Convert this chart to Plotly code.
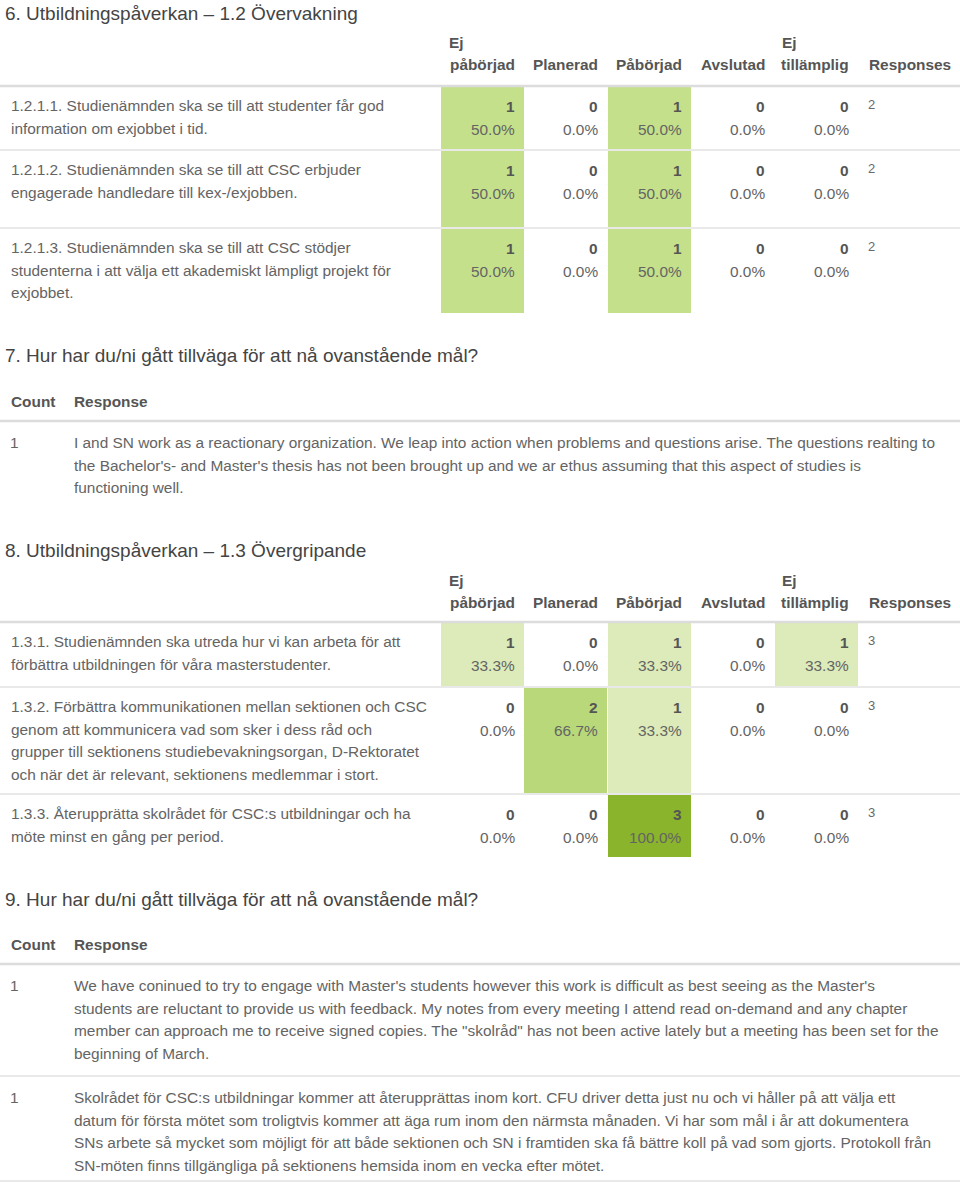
import plotly.graph_objects as go
from plotly.colors import sample_colorscale

# ---------------- data ----------------
col_headers = [["Ej", "påbörjad"], ["Planerad"], ["Påbörjad"], ["Avslutad"], ["Ej", "tillämplig"]]
resp_header = "Responses"

q6_title = "6. Utbildningspåverkan – 1.2 Övervakning"
q6_items = [
    ["1.2.1.1. Studienämnden ska se till att studenter får god", "information om exjobbet i tid."],
    ["1.2.1.2. Studienämnden ska se till att CSC erbjuder", "engagerade handledare till kex-/exjobben."],
    ["1.2.1.3. Studienämnden ska se till att CSC stödjer",
     "studenterna i att välja ett akademiskt lämpligt projekt för", "exjobbet."],
]
q6_counts = [[1, 0, 1, 0, 0], [1, 0, 1, 0, 0], [1, 0, 1, 0, 0]]
q6_responses = [2, 2, 2]

q7_title = "7. Hur har du/ni gått tillväga för att nå ovanstående mål?"
q7_counts = [1]
q7_texts = [[
    "I and SN work as a reactionary organization. We leap into action when problems and questions arise. The questions realting to",
    "the Bachelor's- and Master's thesis has not been brought up and we ar ethus assuming that this aspect of studies is",
    "functioning well.",
]]

q8_title = "8. Utbildningspåverkan – 1.3 Övergripande"
q8_items = [
    ["1.3.1. Studienämnden ska utreda hur vi kan arbeta för att", "förbättra utbildningen för våra masterstudenter."],
    ["1.3.2. Förbättra kommunikationen mellan sektionen och CSC",
     "genom att kommunicera vad som sker i dess råd och",
     "grupper till sektionens studiebevakningsorgan, D-Rektoratet",
     "och när det är relevant, sektionens medlemmar i stort."],
    ["1.3.3. Återupprätta skolrådet för CSC:s utbildningar och ha", "möte minst en gång per period."],
]
q8_counts = [[1, 0, 1, 0, 1], [0, 2, 1, 0, 0], [0, 0, 3, 0, 0]]
q8_responses = [3, 3, 3]

q9_title = "9. Hur har du/ni gått tillväga för att nå ovanstående mål?"
q9_counts = [1, 1]
q9_texts = [
    ["We have coninued to try to engage with Master's students however this work is difficult as best seeing as the Master's",
     "students are reluctant to provide us with feedback. My notes from every meeting I attend read on-demand and any chapter",
     "member can approach me to receive signed copies. The \"skolråd\" has not been active lately but a meeting has been set for the",
     "beginning of March."],
    ["Skolrådet för CSC:s utbildningar kommer att återupprättas inom kort. CFU driver detta just nu och vi håller på att välja ett",
     "datum för första mötet som troligtvis kommer att äga rum inom den närmsta månaden. Vi har som mål i år att dokumentera",
     "SNs arbete så mycket som möjligt för att både sektionen och SN i framtiden ska få bättre koll på vad som gjorts. Protokoll från",
     "SN-möten finns tillgängliga på sektionens hemsida inom en vecka efter mötet."],
]

# ---------------- layout constants ----------------
W, H = 960, 1183
FONT = "Liberation Sans, Arial, Helvetica, sans-serif"
TXT = "#646464"
BOLD_C = "#555555"
TITLE_C = "#444444"
BODY = 15.4
LINE_H = 22.7
PAD = 2
col_edges = [441, 524, 607, 691, 774, 858]
resp_right = 951
ej_left = {0: 449, 4: 782}
heat_scale = [[0, "#ffffff"], [0.333, "#dcebb9"], [0.5, "#c5e08b"], [0.667, "#b8d879"], [1.0, "#89b42b"]]

fig = go.Figure()
annotations = []
shapes = []


def ann(x, y, text, size=BODY, color=None, anchor="left", bold=False):
    if color is None:
        color = BOLD_C if bold else TXT
    xx = x - PAD if anchor == "left" else x + PAD
    annotations.append(dict(
        x=xx, y=y, xref="x", yref="y", text=("<b>%s</b>" % text) if bold else text,
        showarrow=False, xanchor=anchor, yanchor="middle",
        font=dict(family=FONT, size=size, color=color)))


def hline(y, width=1.5, color="#e2e2e2"):
    shapes.append(dict(type="line", xref="x", yref="y", x0=0, x1=W, y0=y, y1=y,
                       line=dict(color=color, width=width)))


def matrix_section(title, title_y, head_y, head_line, items, counts, responses, tops, bottoms):
    ann(5, title_y, title, size=19, color=TITLE_C)
    for j, hl in enumerate(col_headers):
        right = col_edges[j + 1] - 9
        if len(hl) == 2:
            ann(ej_left[j], head_y - 22, hl[0], bold=True)
            ann(right, head_y, hl[1], anchor="right", bold=True)
        else:
            ann(right, head_y, hl[0], anchor="right", bold=True)
    ann(resp_right, head_y, resp_header, anchor="right", bold=True)
    hline(head_line, width=2.5, color="#dcdcdc")
    xs, bases, hs, cols = [], [], [], []
    for i, (lines, row, tot) in enumerate(zip(items, counts, responses)):
        top, bot = tops[i], bottoms[i]
        if i > 0:
            hline(top - 1)
        for k, ln in enumerate(lines):
            ann(11, top + 18.5 + k * LINE_H, ln)
        for j, c in enumerate(row):
            pct = 100.0 * c / tot
            right = col_edges[j + 1] - 9
            ann(right, top + 19.5, str(c), anchor="right", bold=True)
            ann(right, top + 42.5, "%.1f%%" % pct, anchor="right")
            if c > 0:
                xs.append((col_edges[j] + col_edges[j + 1]) / 2)
                bases.append(top)
                hs.append(bot - top)
                cols.append(sample_colorscale(heat_scale, [pct / 100.0])[0])
        ann(868, top + 17, str(tot), size=13, color="#6a6a6a")
    fig.add_trace(go.Bar(x=xs, y=hs, base=bases, width=col_edges[1] - col_edges[0],
                         marker=dict(color=cols, line=dict(width=0)),
                         hoverinfo="skip", showlegend=False))


def text_section(title, title_y, head_y, head_line, counts, texts, tops, seps):
    ann(5, title_y, title, size=19, color=TITLE_C)
    ann(11, head_y, "Count", bold=True)
    ann(74, head_y, "Response", bold=True)
    hline(head_line, width=2.5, color="#dcdcdc")
    for i, (c, lines) in enumerate(zip(counts, texts)):
        top = tops[i]
        ann(10, top + 19.5, str(c))
        for k, ln in enumerate(lines):
            ann(74, top + 19.5 + k * LINE_H, ln)
    for s in seps:
        hline(s)


matrix_section(q6_title, 13, 64, 86, q6_items, q6_counts, q6_responses,
               tops=[87, 151, 229], bottoms=[149, 227, 313])
text_section(q7_title, 355, 401, 421, q7_counts, q7_texts, tops=[423], seps=[])
matrix_section(q8_title, 550, 602, 622, q8_items, q8_counts, q8_responses,
               tops=[623, 688, 795], bottoms=[686, 793, 857])
text_section(q9_title, 899, 944, 964, q9_counts, q9_texts, tops=[966, 1078], seps=[1076, 1181])

fig.update_layout(
    width=W, height=H, margin=dict(l=0, r=0, t=0, b=0),
    paper_bgcolor="white", plot_bgcolor="white",
    xaxis=dict(range=[0, W], visible=False, fixedrange=True),
    yaxis=dict(range=[H, 0], visible=False, fixedrange=True),
    annotations=annotations, shapes=shapes, barmode="overlay", bargap=0, showlegend=False,
)
fig.write_html("out.html", config={"displayModeBar": False},
               post_script="document.body.style.margin='0';document.body.style.overflow='hidden';")
